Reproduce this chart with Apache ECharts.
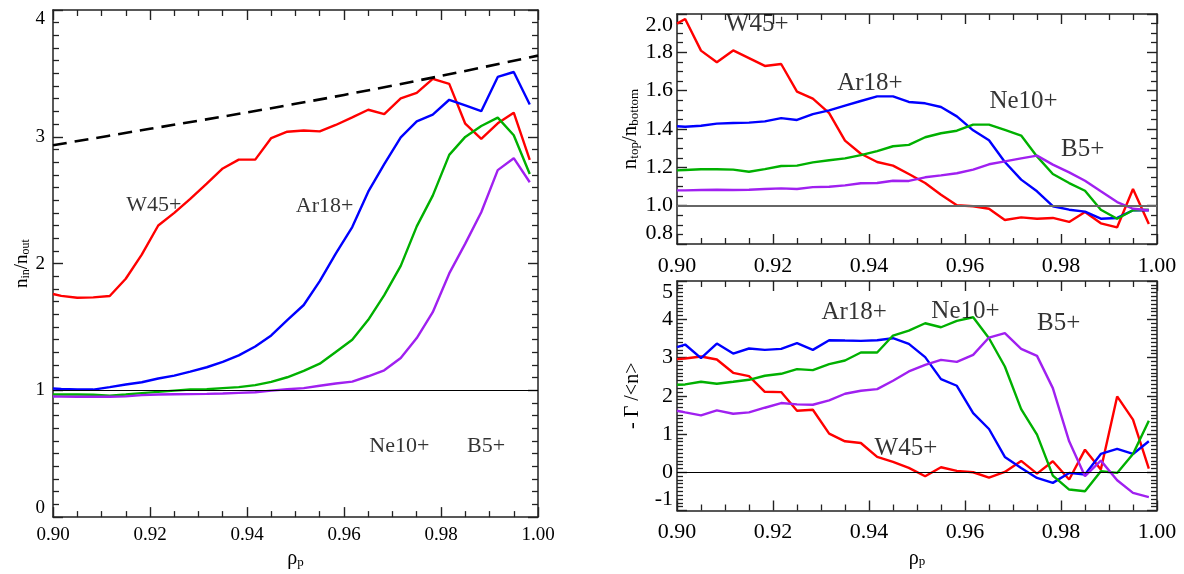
<!DOCTYPE html>
<html><head><meta charset="utf-8">
<script src="https://cdn.jsdelivr.net/npm/echarts@6/dist/echarts.min.js"></script>
<style>html,body{margin:0;padding:0;background:#fff}#c{width:1184px;height:574px}</style>
</head><body><div id="c"></div>
<script>
// ---------- data ----------
const rho = [0.900, 0.9017, 0.905, 0.9083, 0.9117, 0.915, 0.9183, 0.9217, 0.925, 0.9283, 0.9317, 0.935, 0.9383, 0.9417, 0.945, 0.9483, 0.9517, 0.955, 0.9583, 0.9617, 0.965, 0.9683, 0.9717, 0.975, 0.9783, 0.9817, 0.985, 0.9883, 0.9917, 0.995, 0.9983];
const species = ['W45+', 'Ar18+', 'Ne10+', 'B5+'];

// left panel: n_in / n_out
const ratioW = [1.76, 1.745, 1.73, 1.733, 1.744, 1.88, 2.07, 2.30, 2.40, 2.51, 2.63, 2.75, 2.82, 2.82, 2.99, 3.04, 3.05, 3.043, 3.093, 3.153, 3.213, 3.179, 3.302, 3.346, 3.456, 3.417, 3.103, 2.983, 3.106, 3.19, 2.818];
const ratioAr = [1.014, 1.01, 1.006, 1.006, 1.025, 1.046, 1.064, 1.093, 1.116, 1.148, 1.182, 1.224, 1.276, 1.346, 1.433, 1.553, 1.673, 1.862, 2.078, 2.288, 2.567, 2.784, 2.996, 3.122, 3.174, 3.292, 3.247, 3.202, 3.472, 3.511, 3.255];
const ratioNe = [0.967, 0.967, 0.967, 0.965, 0.957, 0.967, 0.978, 0.988, 0.998, 1.006, 1.009, 1.017, 1.025, 1.041, 1.067, 1.103, 1.153, 1.21, 1.302, 1.399, 1.556, 1.751, 1.982, 2.293, 2.536, 2.857, 2.999, 3.085, 3.151, 3.012, 2.706];
const ratioB = [0.951, 0.95, 0.949, 0.949, 0.949, 0.952, 0.962, 0.967, 0.969, 0.97, 0.972, 0.975, 0.98, 0.985, 0.998, 1.009, 1.017, 1.036, 1.054, 1.069, 1.111, 1.158, 1.255, 1.412, 1.616, 1.922, 2.157, 2.405, 2.737, 2.831, 2.641];
const limitX = [0.90, 0.92, 0.94, 0.96, 0.98, 1.00];
const limitY = [2.933, 3.063, 3.192, 3.33, 3.48, 3.64];

// top right panel: n_top / n_bottom
const tbW = [1.95, 1.974, 1.809, 1.748, 1.81, 1.77, 1.729, 1.739, 1.595, 1.558, 1.483, 1.339, 1.271, 1.228, 1.209, 1.165, 1.118, 1.057, 1.002, 0.997, 0.984, 0.925, 0.939, 0.932, 0.936, 0.915, 0.967, 0.908, 0.887, 1.087, 0.904];
const tbAr = [1.414, 1.412, 1.417, 1.428, 1.431, 1.433, 1.44, 1.457, 1.447, 1.478, 1.497, 1.522, 1.546, 1.57, 1.57, 1.541, 1.534, 1.515, 1.466, 1.393, 1.341, 1.228, 1.136, 1.075, 0.997, 0.979, 0.969, 0.932, 0.936, 0.976, 0.976];
const tbNe = [1.184, 1.186, 1.19, 1.19, 1.188, 1.177, 1.191, 1.207, 1.209, 1.226, 1.237, 1.247, 1.264, 1.285, 1.31, 1.317, 1.357, 1.378, 1.391, 1.423, 1.423, 1.395, 1.366, 1.257, 1.165, 1.118, 1.078, 0.979, 0.932, 0.976, 0.979];
const tbB = [1.08, 1.08, 1.082, 1.083, 1.082, 1.083, 1.087, 1.09, 1.087, 1.097, 1.099, 1.106, 1.117, 1.118, 1.13, 1.129, 1.148, 1.158, 1.169, 1.188, 1.216, 1.231, 1.247, 1.261, 1.214, 1.174, 1.13, 1.075, 1.019, 0.984, 0.976];

// bottom right panel: -Gamma / <n>
const flW = [2.957, 2.974, 3.026, 2.948, 2.6, 2.513, 2.104, 2.096, 1.609, 1.635, 1.009, 0.809, 0.765, 0.4, 0.27, 0.113, -0.104, 0.13, 0.035, 0.0, -0.139, 0.009, 0.296, -0.035, 0.287, -0.191, 0.591, 0.07, 1.983, 1.374, 0.096];
const flAr = [3.27, 3.339, 2.983, 3.365, 3.104, 3.235, 3.2, 3.226, 3.374, 3.2, 3.452, 3.443, 3.435, 3.452, 3.504, 3.357, 3.009, 2.435, 2.261, 1.548, 1.13, 0.4, 0.113, -0.148, -0.278, -0.017, -0.061, 0.478, 0.609, 0.478, 0.809];
const flNe = [2.287, 2.296, 2.365, 2.313, 2.365, 2.417, 2.522, 2.574, 2.696, 2.67, 2.826, 2.922, 3.13, 3.13, 3.574, 3.704, 3.896, 3.791, 3.957, 4.052, 3.504, 2.765, 1.652, 0.983, -0.087, -0.452, -0.496, 0.026, -0.017, 0.478, 1.348];
const flB = [1.609, 1.565, 1.487, 1.617, 1.53, 1.565, 1.687, 1.809, 1.774, 1.765, 1.878, 2.052, 2.13, 2.174, 2.391, 2.635, 2.809, 2.939, 2.887, 3.07, 3.522, 3.635, 3.226, 3.043, 2.2, 0.809, -0.104, 0.304, -0.209, -0.539, -0.652];

// annotation anchors (data coordinates) for species names
const labelsLeft = [[0.9208, 2.46], [0.956, 2.455], [0.9714, 0.557], [0.9893, 0.557]];
const labelsTop = [[0.9167, 1.944], [0.9402, 1.64], [0.9722, 1.544], [0.9845, 1.292]];
const labelsBot = [[0.9477, 0.635], [0.9369, 4.178], [0.9601, 4.21], [0.9795, 3.88]];

// ---------- styling ----------
const FONT = 'Liberation Serif';
const AX = '#222';
const COLORS = ['#ff0000', '#0000ff', '#00b000', '#a020f0'];

function pts(ys) { return rho.map((x, i) => [x, ys[i]]); }

function frame(o, minor) {
  o.axisLine = { show: true, onZero: false, lineStyle: { color: AX, width: 1.5 } };
  o.axisTick = { show: true, inside: true, length: 10, lineStyle: { color: AX, width: 1.4 } };
  o.minorTick = { show: true, splitNumber: minor, length: 6, lineStyle: { color: AX, width: 1.3 } };
  o.splitLine = { show: false };
  o.minorSplitLine = { show: false };
  return o;
}

function xAxisOf(g, pos, fs, margin, nameGap) {
  const o = frame({ type: 'value', gridIndex: g, position: pos, min: 0.9, max: 1.0, interval: 0.02 }, 4);
  if (pos === 'bottom') {
    o.axisLabel = { show: true, margin: margin, fontFamily: FONT, fontSize: fs, color: '#000', formatter: v => v.toFixed(2) };
    if (nameGap) {
      o.name = '{m|ρ}{s|p}';
      o.nameLocation = 'middle';
      o.nameGap = nameGap;
      o.nameTextStyle = { rich: {
        m: { fontFamily: FONT, fontSize: 20, color: '#000', verticalAlign: 'bottom', lineHeight: 24 },
        s: { fontFamily: FONT, fontSize: 13, color: '#000', verticalAlign: 'bottom', lineHeight: 10 }
      } };
    }
  } else {
    o.axisLabel = { show: false };
  }
  return o;
}

function yAxisOf(g, pos, min, max, interval, minor, fs, margin, fmt, name, nameGap, rich) {
  const o = frame({ type: 'value', gridIndex: g, position: pos, min: min, max: max, interval: interval }, minor);
  if (pos === 'left') {
    o.axisLabel = { show: true, margin: margin, fontFamily: FONT, fontSize: fs, color: '#000', formatter: fmt,
      verticalAlignMaxLabel: 'top', verticalAlignMinLabel: 'bottom' };
    o.name = name;
    o.nameLocation = 'middle';
    o.nameRotate = 90;
    o.nameGap = nameGap;
    o.nameTextStyle = { fontFamily: FONT, fontSize: 20, color: '#000', rich: rich };
  } else {
    o.axisLabel = { show: false };
  }
  return o;
}

function richTitle(main, sub) {
  return {
    m: { fontFamily: FONT, fontSize: main, color: '#000', verticalAlign: 'bottom', lineHeight: 24 },
    s: { fontFamily: FONT, fontSize: sub, color: '#000', verticalAlign: 'bottom', lineHeight: 9 }
  };
}

function lineSeries(g, ys, color, refY, refColor, refWidth) {
  const s = {
    type: 'line', xAxisIndex: 2 * g, yAxisIndex: 2 * g, data: pts(ys),
    showSymbol: false, symbol: 'none', silent: true,
    lineStyle: { color: color, width: 2.4 }, z: 3
  };
  if (refY !== undefined) {
    s.markLine = {
      silent: true, symbol: 'none', animation: false, label: { show: false },
      lineStyle: { color: refColor, width: refWidth, type: 'solid' },
      data: [{ yAxis: refY }]
    };
  }
  return s;
}

function labelSeries(g, coords, fs) {
  return {
    type: 'scatter', xAxisIndex: 2 * g, yAxisIndex: 2 * g, silent: true,
    symbolSize: 1, itemStyle: { color: 'rgba(0,0,0,0)' }, z: 5,
    data: coords.map((c, i) => ({ value: c, name: species[i] })),
    label: { show: true, position: 'inside', align: 'center', verticalAlign: 'middle',
      formatter: p => p.name, fontFamily: FONT, fontSize: fs, color: '#000' }
  };
}

const xAxes = [
  xAxisOf(0, 'bottom', 19, 8, 27), xAxisOf(0, 'top'),
  xAxisOf(1, 'bottom', 22, 11, 0), xAxisOf(1, 'top'),
  xAxisOf(2, 'bottom', 22, 11, 34), xAxisOf(2, 'top')
];
const yAxes = [
  yAxisOf(0, 'left', 0, 4, 1, 10, 19, 8, v => String(v), '{m|n}{s|in}{m|/n}{s|out}', 20, richTitle(19, 12)),
  yAxisOf(0, 'right', 0, 4, 1, 10),
  yAxisOf(1, 'left', 0.8, 2.0, 0.2, 4, 22, 4, v => v.toFixed(1), '{m|n}{s|top}{m|/n}{s|bottom}', 36, richTitle(21, 13)),
  yAxisOf(1, 'right', 0.8, 2.0, 0.2, 4),
  yAxisOf(2, 'left', -1, 5, 1, 10, 22, 4, v => String(Math.round(v)), '- Γ /<n>', 34, undefined),
  yAxisOf(2, 'right', -1, 5, 1, 10)
];

const series = [
  // left
  lineSeries(0, ratioW, COLORS[0], 1, '#000', 1),
  lineSeries(0, ratioAr, COLORS[1]),
  lineSeries(0, ratioNe, COLORS[2]),
  lineSeries(0, ratioB, COLORS[3]),
  {
    type: 'line', xAxisIndex: 0, yAxisIndex: 0, silent: true, showSymbol: false, symbol: 'none',
    data: limitX.map((x, i) => [x, limitY[i]]), smooth: 0.3,
    lineStyle: { color: '#000', width: 2.6, type: [14, 8] }, z: 4
  },
  labelSeries(0, labelsLeft, 22),
  // top right
  lineSeries(1, tbW, COLORS[0], 1, '#666', 2),
  lineSeries(1, tbAr, COLORS[1]),
  lineSeries(1, tbNe, COLORS[2]),
  lineSeries(1, tbB, COLORS[3]),
  labelSeries(1, labelsTop, 25),
  // bottom right
  lineSeries(2, flW, COLORS[0], 0, '#000', 1.2),
  lineSeries(2, flAr, COLORS[1]),
  lineSeries(2, flNe, COLORS[2]),
  lineSeries(2, flB, COLORS[3]),
  labelSeries(2, labelsBot, 25)
];

const chart = echarts.init(document.getElementById('c'), null, { renderer: 'canvas' });
chart.setOption({
  animation: false,
  backgroundColor: '#fff',
  grid: [
    { left: 53, top: 10, width: 485, height: 510 },
    { left: 677, top: 14, width: 480, height: 230 },
    { left: 677, top: 281, width: 480, height: 229.5 }
  ],
  xAxis: xAxes,
  yAxis: yAxes,
  series: series
});
</script>
</body></html>
